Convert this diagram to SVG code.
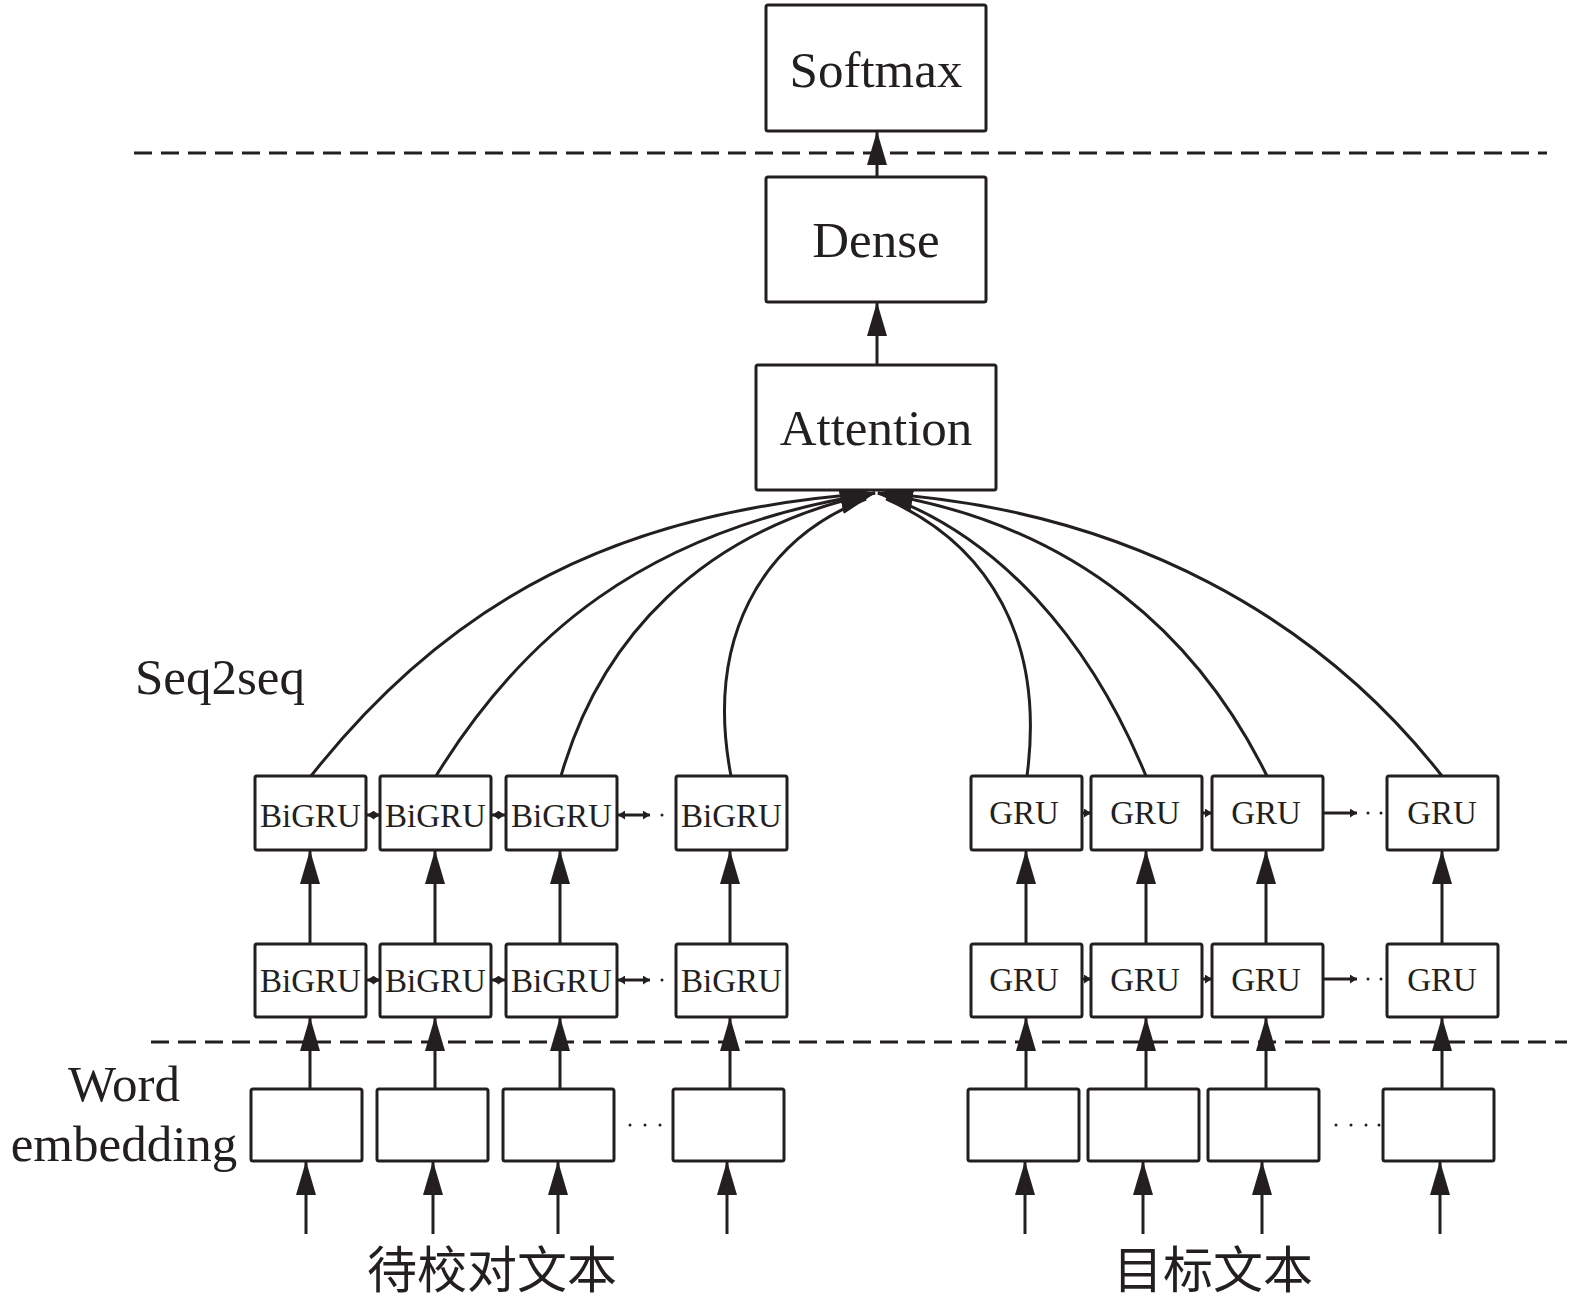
<svg xmlns="http://www.w3.org/2000/svg" width="1575" height="1303" viewBox="0 0 1575 1303">
<style>
.box{fill:#fff;stroke:#231f20;stroke-width:3}
.t{font-family:"Liberation Serif","Times New Roman",serif;fill:#231f20;text-anchor:middle}
.big{font-size:51px}
.sm{font-size:33px}
.cn{font-family:"Noto Sans CJK SC",sans-serif;font-size:50px;fill:#231f20;text-anchor:middle}
.ln{fill:none;stroke:#231f20;stroke-width:3}
.hl{fill:none;stroke:#231f20;stroke-width:3}
.dash{fill:none;stroke:#231f20;stroke-width:3;stroke-dasharray:18 9}
.dot{fill:#231f20}
</style>
<defs>
<marker id="ah" markerUnits="userSpaceOnUse" markerWidth="34" markerHeight="20" viewBox="0 0 34 20" refX="33" refY="10" orient="auto"><path d="M0,0 L34,10 L0,20 z" fill="#231f20"/></marker>
<marker id="ahb" markerUnits="userSpaceOnUse" markerWidth="36" markerHeight="28" viewBox="0 0 36 28" refX="35" refY="14" orient="auto"><path d="M0,0 L36,14 L0,28 z" fill="#231f20"/></marker>
<marker id="sa" markerUnits="userSpaceOnUse" markerWidth="7" markerHeight="9" viewBox="0 0 7 9" refX="7" refY="4.5" orient="auto-start-reverse"><path d="M0,0 L7,4.5 L0,9 z" fill="#231f20"/></marker>
</defs>
<rect width="1575" height="1303" fill="#fff"/>

<g id="separators">
<line class="dash" x1="134" y1="153" x2="1547" y2="153"/>
<line class="dash" x1="151" y1="1042" x2="1567" y2="1042"/>
</g>

<g id="connectors">
<line class="ln" x1="877" y1="177" x2="877" y2="132" marker-end="url(#ah)"/>
<line class="ln" x1="877" y1="365" x2="877" y2="303" marker-end="url(#ah)"/>
<path class="ln" d="M311,776 C450,600 620,510 875,493"/>
<path class="ln" d="M436,776 C520,640 640,530 875,493"/>
<path class="ln" d="M561,776 C600,640 700,530 875,493" marker-end="url(#ahb)"/>
<path class="ln" d="M731,776 C705,640 760,540 866,499"/>
<path class="ln" d="M1027,776 C1045,640 990,545 886,499"/>
<path class="ln" d="M1146,776 C1090,640 1000,535 878,493"/>
<path class="ln" d="M1267,776 C1200,640 1080,525 878,493" marker-end="url(#ahb)"/>
<path class="ln" d="M1442,776 C1320,620 1130,510 878,493"/>
<line class="ln" x1="310" y1="944" x2="310" y2="851" marker-end="url(#ah)"/>
<line class="ln" x1="435" y1="944" x2="435" y2="851" marker-end="url(#ah)"/>
<line class="ln" x1="560" y1="944" x2="560" y2="851" marker-end="url(#ah)"/>
<line class="ln" x1="730" y1="944" x2="730" y2="851" marker-end="url(#ah)"/>
<line class="ln" x1="1026" y1="944" x2="1026" y2="851" marker-end="url(#ah)"/>
<line class="ln" x1="1146" y1="944" x2="1146" y2="851" marker-end="url(#ah)"/>
<line class="ln" x1="1266" y1="944" x2="1266" y2="851" marker-end="url(#ah)"/>
<line class="ln" x1="1442" y1="944" x2="1442" y2="851" marker-end="url(#ah)"/>
<line class="ln" x1="310" y1="1089" x2="310" y2="1018" marker-end="url(#ah)"/>
<line class="ln" x1="435" y1="1089" x2="435" y2="1018" marker-end="url(#ah)"/>
<line class="ln" x1="560" y1="1089" x2="560" y2="1018" marker-end="url(#ah)"/>
<line class="ln" x1="730" y1="1089" x2="730" y2="1018" marker-end="url(#ah)"/>
<line class="ln" x1="1026" y1="1089" x2="1026" y2="1018" marker-end="url(#ah)"/>
<line class="ln" x1="1146" y1="1089" x2="1146" y2="1018" marker-end="url(#ah)"/>
<line class="ln" x1="1266" y1="1089" x2="1266" y2="1018" marker-end="url(#ah)"/>
<line class="ln" x1="1442" y1="1089" x2="1442" y2="1018" marker-end="url(#ah)"/>
<line class="ln" x1="306" y1="1234" x2="306" y2="1162" marker-end="url(#ah)"/>
<line class="ln" x1="433" y1="1234" x2="433" y2="1162" marker-end="url(#ah)"/>
<line class="ln" x1="558" y1="1234" x2="558" y2="1162" marker-end="url(#ah)"/>
<line class="ln" x1="727" y1="1234" x2="727" y2="1162" marker-end="url(#ah)"/>
<line class="ln" x1="1025" y1="1234" x2="1025" y2="1162" marker-end="url(#ah)"/>
<line class="ln" x1="1143" y1="1234" x2="1143" y2="1162" marker-end="url(#ah)"/>
<line class="ln" x1="1262" y1="1234" x2="1262" y2="1162" marker-end="url(#ah)"/>
<line class="ln" x1="1440" y1="1234" x2="1440" y2="1162" marker-end="url(#ah)"/>
<line class="hl" x1="367" y1="815" x2="380" y2="815" marker-start="url(#sa)" marker-end="url(#sa)"/>
<line class="hl" x1="492" y1="815" x2="505" y2="815" marker-start="url(#sa)" marker-end="url(#sa)"/>
<line class="hl" x1="618" y1="815" x2="650" y2="815" marker-start="url(#sa)" marker-end="url(#sa)"/>
<circle class="dot" cx="662" cy="815" r="1.5"/>
<line class="hl" x1="367" y1="980" x2="380" y2="980" marker-start="url(#sa)" marker-end="url(#sa)"/>
<line class="hl" x1="492" y1="980" x2="505" y2="980" marker-start="url(#sa)" marker-end="url(#sa)"/>
<line class="hl" x1="618" y1="980" x2="650" y2="980" marker-start="url(#sa)" marker-end="url(#sa)"/>
<circle class="dot" cx="662" cy="980" r="1.5"/>
<line class="hl" x1="1083" y1="813" x2="1091" y2="813" marker-end="url(#sa)"/>
<line class="hl" x1="1203" y1="813" x2="1212" y2="813" marker-end="url(#sa)"/>
<line class="hl" x1="1324" y1="813" x2="1357" y2="813" marker-end="url(#sa)"/>
<circle class="dot" cx="1368" cy="813" r="1.5"/>
<circle class="dot" cx="1381" cy="813" r="1.5"/>
<line class="hl" x1="1083" y1="979" x2="1091" y2="979" marker-end="url(#sa)"/>
<line class="hl" x1="1203" y1="979" x2="1212" y2="979" marker-end="url(#sa)"/>
<line class="hl" x1="1324" y1="979" x2="1357" y2="979" marker-end="url(#sa)"/>
<circle class="dot" cx="1368" cy="979" r="1.5"/>
<circle class="dot" cx="1381" cy="979" r="1.5"/>
<circle class="dot" cx="630" cy="1125" r="1.5"/>
<circle class="dot" cx="645" cy="1125" r="1.5"/>
<circle class="dot" cx="660" cy="1125" r="1.5"/>
<circle class="dot" cx="1336" cy="1125" r="1.5"/>
<circle class="dot" cx="1351" cy="1125" r="1.5"/>
<circle class="dot" cx="1366" cy="1125" r="1.5"/>
<circle class="dot" cx="1379" cy="1125" r="1.5"/>
</g>

<g id="softmax"><rect class="box" x="766" y="5" width="220" height="126" rx="2"/><text class="t big" x="876" y="87">Softmax</text></g>
<g id="dense"><rect class="box" x="766" y="177" width="220" height="125" rx="2"/><text class="t big" x="876" y="257">Dense</text></g>
<g id="attention"><rect class="box" x="756" y="365" width="240" height="125" rx="2"/><text class="t big" x="876" y="445">Attention</text></g>

<g id="label-seq2seq"><text class="t big" x="220" y="694">Seq2seq</text></g>
<g id="label-word-embedding"><text class="t big" x="124" y="1101">Word</text><text class="t big" x="124" y="1161">embedding</text></g>

<g id="bigru-1-1"><rect class="box" x="255" y="776" width="111" height="74" rx="2"/><text class="t sm" x="310.5" y="827">BiGRU</text></g>
<g id="bigru-1-2"><rect class="box" x="380" y="776" width="111" height="74" rx="2"/><text class="t sm" x="435.5" y="827">BiGRU</text></g>
<g id="bigru-1-3"><rect class="box" x="506" y="776" width="111" height="74" rx="2"/><text class="t sm" x="561.5" y="827">BiGRU</text></g>
<g id="bigru-1-4"><rect class="box" x="676" y="776" width="111" height="74" rx="2"/><text class="t sm" x="731.5" y="827">BiGRU</text></g>

<g id="bigru-2-1"><rect class="box" x="255" y="944" width="111" height="73" rx="2"/><text class="t sm" x="310.5" y="992">BiGRU</text></g>
<g id="bigru-2-2"><rect class="box" x="380" y="944" width="111" height="73" rx="2"/><text class="t sm" x="435.5" y="992">BiGRU</text></g>
<g id="bigru-2-3"><rect class="box" x="506" y="944" width="111" height="73" rx="2"/><text class="t sm" x="561.5" y="992">BiGRU</text></g>
<g id="bigru-2-4"><rect class="box" x="676" y="944" width="111" height="73" rx="2"/><text class="t sm" x="731.5" y="992">BiGRU</text></g>

<g id="gru-1-1"><rect class="box" x="971" y="776" width="111" height="74" rx="2"/><text class="t sm" x="1024" y="824">GRU</text></g>
<g id="gru-1-2"><rect class="box" x="1091" y="776" width="111" height="74" rx="2"/><text class="t sm" x="1145" y="824">GRU</text></g>
<g id="gru-1-3"><rect class="box" x="1212" y="776" width="111" height="74" rx="2"/><text class="t sm" x="1266" y="824">GRU</text></g>
<g id="gru-1-4"><rect class="box" x="1387" y="776" width="111" height="74" rx="2"/><text class="t sm" x="1442" y="824">GRU</text></g>

<g id="gru-2-1"><rect class="box" x="971" y="944" width="111" height="73" rx="2"/><text class="t sm" x="1024" y="991">GRU</text></g>
<g id="gru-2-2"><rect class="box" x="1091" y="944" width="111" height="73" rx="2"/><text class="t sm" x="1145" y="991">GRU</text></g>
<g id="gru-2-3"><rect class="box" x="1212" y="944" width="111" height="73" rx="2"/><text class="t sm" x="1266" y="991">GRU</text></g>
<g id="gru-2-4"><rect class="box" x="1387" y="944" width="111" height="73" rx="2"/><text class="t sm" x="1442" y="991">GRU</text></g>

<g id="emb-l-1"><rect class="box" x="251" y="1089" width="111" height="72" rx="2"/></g>
<g id="emb-l-2"><rect class="box" x="377" y="1089" width="111" height="72" rx="2"/></g>
<g id="emb-l-3"><rect class="box" x="503" y="1089" width="111" height="72" rx="2"/></g>
<g id="emb-l-4"><rect class="box" x="673" y="1089" width="111" height="72" rx="2"/></g>
<g id="emb-r-1"><rect class="box" x="968" y="1089" width="111" height="72" rx="2"/></g>
<g id="emb-r-2"><rect class="box" x="1088" y="1089" width="111" height="72" rx="2"/></g>
<g id="emb-r-3"><rect class="box" x="1208" y="1089" width="111" height="72" rx="2"/></g>
<g id="emb-r-4"><rect class="box" x="1383" y="1089" width="111" height="72" rx="2"/></g>

<g id="label-source"><text class="cn" x="492" y="1288">待校对文本</text></g>
<g id="label-target"><text class="cn" x="1213" y="1288">目标文本</text></g>
</svg>
